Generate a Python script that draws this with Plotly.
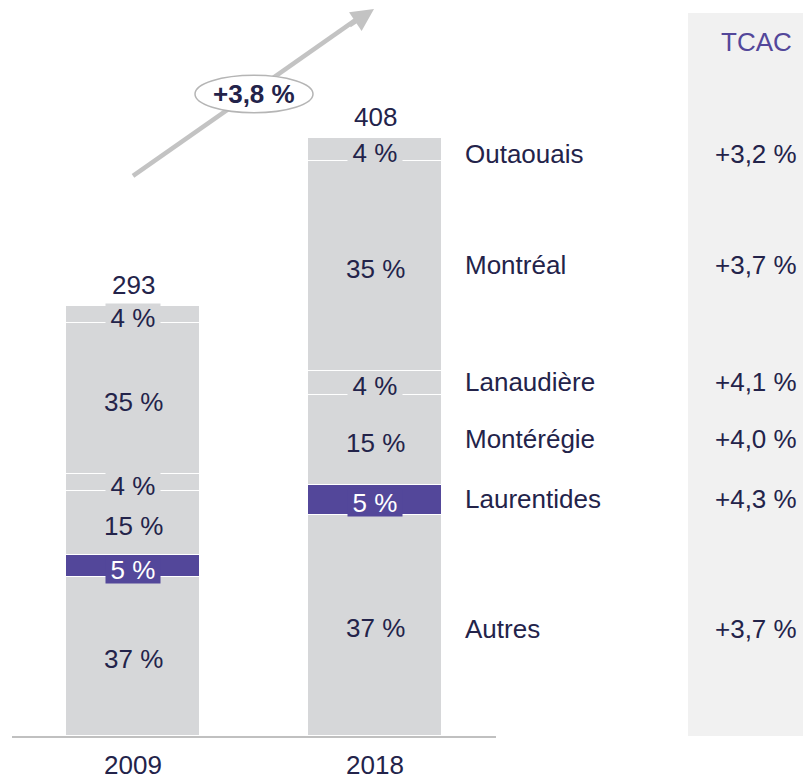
import plotly.graph_objects as go

# ---- data ----
years = ["2009", "2018"]
totals = [293, 408]
regions = ["Autres", "Laurentides", "Montérégie", "Lanaudière", "Montréal", "Outaouais"]
shares_2009 = [37, 5, 15, 4, 35, 4]
shares_2018 = [37, 5, 15, 4, 35, 4]
tcac_values = ["+3,7 %", "+4,3 %", "+4,0 %", "+4,1 %", "+3,7 %", "+3,2 %"]
tcac_total = "+3,8 %"
highlight = "Laurentides"

# ---- styles ----
OFF = 8                     # page body margin
W, H = 811 - OFF, 780 - OFF  # figure size
BASE = 745 - OFF             # baseline pixel (figure coords)
GRAY = "#d6d7d9"
PURPLE = "#53479a"
NAVY = "#23234a"
FONT = "Liberation Sans, Arial, sans-serif"
FS = 26
LABEL_YSHIFT = [-4, 1, 1, 1, 1, -5]   # pixel nudges of the right-hand labels

shares = [shares_2009, shares_2018]
xpos = [0, 1]


def px(p):  # reference pixel x -> paper x
    return (p - OFF) / W


def py(p):  # reference pixel y -> paper y
    return (BASE - (p - OFF)) / BASE


fig = go.Figure()
for r_i, reg in enumerate(regions):
    vals = [totals[k] * shares[k][r_i] / 100 for k in range(2)]
    fig.add_trace(go.Bar(
        x=xpos, y=vals, width=0.554, name=reg,
        marker=dict(color=PURPLE if reg == highlight else GRAY,
                    line=dict(color="white", width=1.5)),
        hoverinfo="skip",
    ))

ann = []
for k in range(2):
    cum = 0
    for r_i, reg in enumerate(regions):
        v = totals[k] * shares[k][r_i] / 100
        center = cum + v / 2
        cum += v
        is_hl = reg == highlight
        small = shares[k][r_i] <= 5
        a = dict(x=xpos[k], y=center, xref="x", yref="y", showarrow=False,
                 xanchor="center", text=f"{shares[k][r_i]} %", yshift=-3,
                 font=dict(family=FONT, size=FS, color="white" if is_hl else NAVY))
        if small:
            a.update(bgcolor=PURPLE if is_hl else GRAY, width=54, height=27, borderpad=0)
        ann.append(a)
    ann.append(dict(x=xpos[k], y=totals[k], xref="x", yref="y", showarrow=False,
                    xanchor="center", text=str(totals[k]), yanchor="bottom", yshift=4,
                    font=dict(family=FONT, size=FS, color=NAVY)))

cum = 0
for r_i, reg in enumerate(regions):
    v = totals[1] * shares_2018[r_i] / 100
    center = cum + v / 2
    cum += v
    shift = LABEL_YSHIFT[r_i]
    ann.append(dict(x=px(463), y=center, xref="paper", yref="y", showarrow=False,
                    xanchor="left", text=reg, yshift=shift,
                    font=dict(family=FONT, size=FS, color=NAVY)))
    ann.append(dict(x=px(799), y=center, xref="paper", yref="y", showarrow=False,
                    xanchor="right", text=tcac_values[r_i], yshift=shift,
                    font=dict(family=FONT, size=FS, color=NAVY)))

ann.append(dict(x=px(756), y=py(42), xref="paper", yref="paper", showarrow=False,
                xanchor="center", yanchor="middle", text="TCAC",
                font=dict(family=FONT, size=FS, color=PURPLE)))

# growth arrow head + label
ann.append(dict(x=px(374), y=py(8), xref="paper", yref="paper", text="",
                showarrow=True, arrowhead=2, arrowsize=1, arrowwidth=4.5,
                arrowcolor="#c3c3c3", ax=-26, ay=18.5))
ann.append(dict(x=px(254), y=py(95), xref="paper", yref="paper", showarrow=False,
                xanchor="center", yanchor="middle", text=f"<b>{tcac_total}</b>",
                font=dict(family=FONT, size=FS, color=NAVY)))

shapes = [
    dict(type="rect", xref="paper", yref="paper", x0=px(688), x1=1, y0=0, y1=py(13),
         fillcolor="#f1f1f1", line=dict(width=0), layer="below"),
    dict(type="line", xref="paper", yref="paper", x0=px(133), y0=py(178),
         x1=px(360), y1=py(17), line=dict(color="#c3c3c3", width=4.5), layer="below"),
    dict(type="circle", xref="paper", yref="paper", x0=px(195), x1=px(313),
         y0=py(114), y1=py(76), fillcolor="white",
         line=dict(color="#b5b5b5", width=1.5), layer="above"),
]

fig.update_layout(
    width=W, height=H, barmode="stack", bargap=0,
    margin=dict(l=0, r=0, t=0, b=H - BASE, pad=0),
    plot_bgcolor="white", paper_bgcolor="white",
    showlegend=False, annotations=ann, shapes=shapes,
    xaxis=dict(domain=[px(12), px(496)], range=[-0.5, 1.5], tickvals=xpos,
               ticktext=years, showline=True, linecolor="#c0c0c0", linewidth=2,
               showgrid=False, zeroline=False, ticks="", ticklabelstandoff=5,
               tickfont=dict(family=FONT, size=FS, color=NAVY), fixedrange=True),
    yaxis=dict(range=[0, BASE / 1.485], visible=False, fixedrange=True),
)

fig.write_html("out.html")
